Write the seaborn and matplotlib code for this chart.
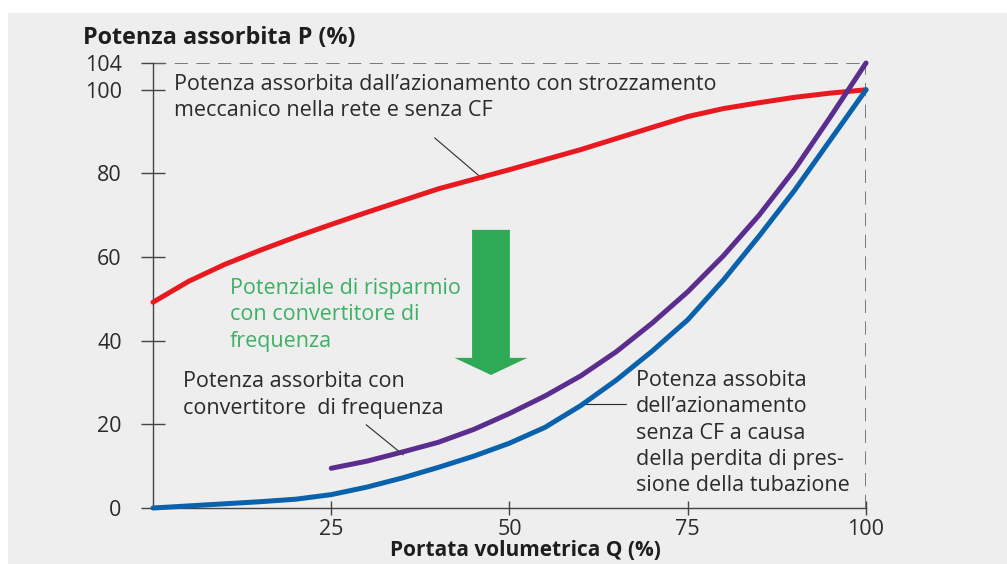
import numpy as np
import pandas as pd
import matplotlib.pyplot as plt
from matplotlib.patches import Rectangle
import seaborn as sns

# Data (Q = flow %, P = absorbed power %)
q_red = [0, 5, 10, 15, 20, 25, 30, 40, 50, 60, 70, 75, 80, 85, 90, 95, 100]
p_red = [49.2, 54.2, 58.2, 61.6, 64.8, 67.8, 70.7, 76.3, 80.9, 85.7, 91.0, 93.6, 95.5, 96.9, 98.2, 99.2, 100]

q_purple = [25, 30, 35, 40, 45, 50, 55, 60, 65, 70, 75, 80, 85, 90, 95, 100]
p_purple = [9.5, 11.2, 13.4, 15.7, 18.8, 22.6, 26.8, 31.6, 37.4, 44.2, 51.7, 60.3, 70, 81, 93.5, 104]

q_blue = [0, 5, 10, 15, 20, 25, 30, 35, 40, 45, 50, 55, 60, 65, 70, 75, 80, 85, 90, 95, 100]
p_blue = [0, 0.5, 1.0, 1.5, 2.1, 3.2, 5, 7.2, 9.7, 12.4, 15.5, 19.3, 24.5, 30.6, 37.5, 45, 54.5, 65, 76, 88, 100]

x_ticks = [25, 50, 75, 100]
y_ticks = [0, 20, 40, 60, 80, 100, 104]

red = '#e8191f'
purple = '#5b2d8e'
blue = '#0a62ad'
green = '#2eaa57'
green_txt = '#3cb163'
txt = '#2b2b2b'

# the chart stretches the band 100..104 so the "104" tick sits apart from "100"
def fwd(y):
    y = np.asarray(y, dtype=float)
    return np.where(y <= 100, y, 100 + (y - 100) * 1.6)

def inv(y):
    y = np.asarray(y, dtype=float)
    return np.where(y <= 100, y, 100 + (y - 100) / 1.6)

sns.set_style('ticks')
plt.rcParams['font.family'] = ['Open Sans', 'DejaVu Sans']

fig = plt.figure(figsize=(10.07, 5.64), dpi=100)
fig.patch.set_facecolor('white')
fig.patches.append(Rectangle((8 / 1007, 0), 1, 1 - 13 / 564, transform=fig.transFigure,
                             facecolor='#eeeeee', edgecolor='none', zorder=-10))
ax = fig.add_axes([153 / 1007, 56 / 564, (866 - 153) / 1007, (508 - 63) / 564])
ax.set_facecolor('none')
ax.set_yscale('function', functions=(fwd, inv))

df_red = pd.DataFrame({'Q': q_red, 'P': p_red})
df_purple = pd.DataFrame({'Q': q_purple, 'P': p_purple})
df_blue = pd.DataFrame({'Q': q_blue, 'P': p_blue})

for d, c in [(df_red, red), (df_purple, purple), (df_blue, blue)]:
    sns.lineplot(data=d, x='Q', y='P', ax=ax, color=c, linewidth=3.6,
                 solid_capstyle='round', clip_on=False, zorder=3)

ax.axhline(104, color='#666666', lw=1.2, dashes=(8, 5), zorder=1)
ax.axvline(100, color='#666666', lw=1.2, dashes=(8, 5), zorder=1)

ax.set_xlim(0, 100)
ax.set_ylim(0, 104)
ax.set_xticks(x_ticks)
ax.set_yticks(y_ticks)
ax.set_yticklabels([str(t) for t in y_ticks])
ax.set_xlabel('')
ax.set_ylabel('')
sns.despine(ax=ax)
for s in ['left', 'bottom']:
    ax.spines[s].set_color('#444444')
    ax.spines[s].set_linewidth(1.0)
ax.tick_params(axis='y', direction='inout', length=17, width=1.0, color='#444444',
               labelsize=15.5, labelcolor=txt, pad=14)
ax.tick_params(axis='x', direction='inout', length=10, width=1.0, color='#444444',
               labelsize=15.5, labelcolor=txt, pad=3)

fs = 15.5
ls = 1.33
ax.text(2.9, 98.1, "Potenza assorbita dall\u2019azionamento con strozzamento\nmeccanico nella rete e senza CF",
        fontsize=fs, color=txt, va='center', ha='left', linespacing=ls)
ax.plot([39.5, 46.3], [88.5, 78.6], color=txt, lw=0.8)

ax.text(4.2, 27, "Potenza assorbita con\nconvertitore  di frequenza",
        fontsize=fs, color=txt, va='center', ha='left', linespacing=ls)
ax.plot([29.9, 35.1], [19.9, 12.7], color=txt, lw=0.8)

ax.text(67.7, 17.9, "Potenza assobita\ndell\u2019azionamento\nsenza CF a causa\ndella perdita di pres-\nsione della tubazione",
        fontsize=fs, color=txt, va='center', ha='left', linespacing=ls)
ax.plot([60, 66.4], [24.9, 24.9], color=txt, lw=0.8)

ax.text(10.8, 46.2, "Potenziale di risparmio\ncon convertitore di\nfrequenza",
        fontsize=fs, color=green_txt, va='center', ha='left', linespacing=ls)
ax.arrow(47.4, 66.5, 0, -34.7, width=5.3, head_width=10.2, head_length=4.1,
         length_includes_head=True, color=green, linewidth=0, zorder=2)

fig.text(83 / 1007, 1 - 38 / 564, 'Potenza assorbita P (%)', fontsize=16.8, fontweight='bold',
         color='#1e1e1e', ha='left', va='center')
fig.text(525 / 1007, 1 - 551 / 564, 'Portata volumetrica Q (%)', fontsize=15, fontweight='bold',
         color='#1e1e1e', ha='center', va='center')

plt.savefig('out.png', dpi=100, facecolor=fig.get_facecolor())
